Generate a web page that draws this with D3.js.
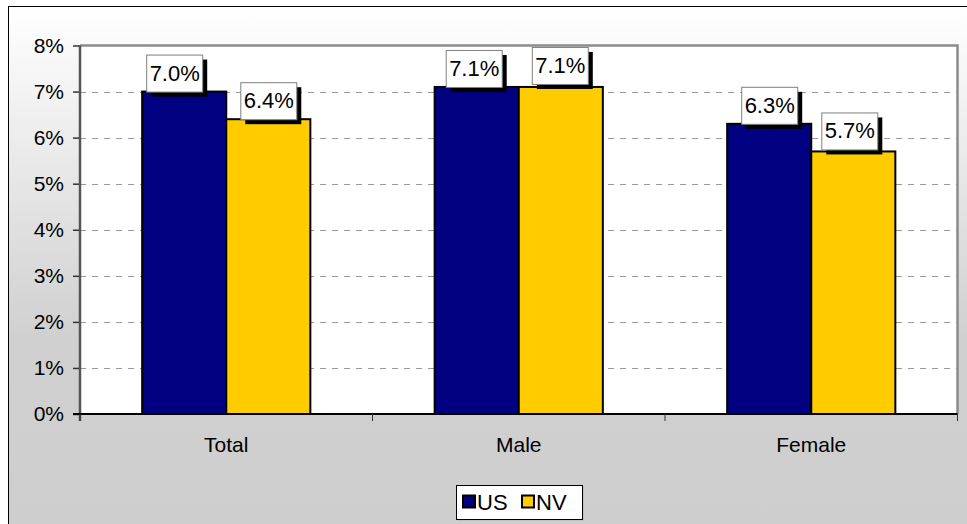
<!DOCTYPE html>
<html>
<head>
<meta charset="utf-8">
<script src="https://cdn.jsdelivr.net/npm/d3@7"></script>
<style>
  html, body { margin: 0; padding: 0; background: #ffffff; }
  svg { display: block; font-family: Arial, "Liberation Sans", sans-serif; }
</style>
</head>
<body>
<svg id="chart" width="967" height="524"></svg>
<script>
// ---- data ----
const categories = ["Total", "Male", "Female"];
const seriesNames = ["US", "NV"];
const usValues = [0.070, 0.071, 0.063];
const nvValues = [0.064, 0.071, 0.057];
const yTickValues = [0, 0.01, 0.02, 0.03, 0.04, 0.05, 0.06, 0.07, 0.08];

// ---- style / layout ----
const colors = { US: "#000080", NV: "#FFCC00" };
const labelNudge = { US: [[-10, 0], [-3, 0], [0, 0]], NV: [[0, 0], [-1, -3], [-4, -2]] };
const W = 967, H = 524;
const plot = { left: 80, right: 957.5, top: 45.5, bottom: 414 };
const fontSize = 21;

const svg = d3.select("#chart");
const defs = svg.append("defs");
const grad = defs.append("linearGradient").attr("id", "bg").attr("x1", 0).attr("y1", 0).attr("x2", 0).attr("y2", 1);
grad.append("stop").attr("offset", "0%").attr("stop-color", "#ffffff");
grad.append("stop").attr("offset", "62%").attr("stop-color", "#d0d0d0");
grad.append("stop").attr("offset", "100%").attr("stop-color", "#cecece");

// chart area background
svg.append("rect").attr("x", 8.5).attr("y", 6.5).attr("width", W + 10).attr("height", H + 10)
  .attr("fill", "url(#bg)").attr("stroke", "#000").attr("stroke-width", 1);

// scales
const x0 = d3.scaleBand().domain(categories).range([plot.left, plot.right]).padding(0);
const groupW = x0.bandwidth() * 0.575;
const x1 = d3.scaleBand().domain(seriesNames)
  .range([(x0.bandwidth() - groupW) / 2, (x0.bandwidth() + groupW) / 2]).padding(0);
const y = d3.scaleLinear().domain([0, 0.08]).range([plot.bottom, plot.top]);

// plot area
svg.append("rect").attr("x", plot.left).attr("y", plot.top)
  .attr("width", plot.right - plot.left).attr("height", plot.bottom - plot.top)
  .attr("fill", "#ffffff");

// gridlines
svg.append("g").selectAll("line").data(yTickValues.filter(v => v > 0 && v < 0.08)).join("line")
  .attr("x1", plot.left).attr("x2", plot.right)
  .attr("y1", d => Math.round(y(d)) + 0.5).attr("y2", d => Math.round(y(d)) + 0.5)
  .attr("stroke", "#9a9a9a").attr("stroke-width", 1).attr("stroke-dasharray", "6,6");

// plot border (top & right gray)
svg.append("path")
  .attr("d", `M${plot.left},${plot.top} H${plot.right} V${plot.bottom}`)
  .attr("fill", "none").attr("stroke", "#8c8c8c").attr("stroke-width", 2.5);

// bars
const rows = categories.map((c, i) => ({ cat: c, i, vals: [
  { s: "US", v: usValues[i] }, { s: "NV", v: nvValues[i] }] }));
const groups = svg.append("g").selectAll("g").data(rows).join("g")
  .attr("transform", d => `translate(${x0(d.cat)},0)`);
groups.selectAll("rect").data(d => d.vals).join("rect")
  .attr("x", d => x1(d.s)).attr("width", x1.bandwidth())
  .attr("y", d => y(d.v)).attr("height", d => y(0) - y(d.v))
  .attr("fill", d => colors[d.s]).attr("stroke", "#000").attr("stroke-width", 2);

// y axis
const yAxis = d3.axisLeft(y).tickValues(yTickValues).tickFormat(d3.format(".0%")).tickSize(7).tickPadding(9);
const yg = svg.append("g").attr("transform", `translate(${plot.left},0)`).call(yAxis);
yg.select(".domain").remove();
yg.selectAll(".tick line").attr("stroke", "#333").attr("stroke-width", 1.5);
yg.selectAll(".tick text").attr("font-size", fontSize).attr("fill", "#000")
  .attr("font-family", "Arial, 'Liberation Sans', sans-serif");
svg.append("line").attr("x1", plot.left).attr("x2", plot.left).attr("y1", plot.top).attr("y2", plot.bottom + 7)
  .attr("stroke", "#555").attr("stroke-width", 2.5);

// x axis
const xAxis = d3.axisBottom(x0).tickSize(0).tickPadding(0);
const xg = svg.append("g").attr("transform", `translate(0,${plot.bottom})`).call(xAxis);
xg.select(".domain").remove();
xg.selectAll(".tick text").attr("font-size", fontSize).attr("fill", "#000")
  .attr("font-family", "Arial, 'Liberation Sans', sans-serif")
  .attr("dy", null).attr("y", 38);
svg.append("line").attr("x1", plot.left - 7).attr("x2", plot.right).attr("y1", plot.bottom).attr("y2", plot.bottom)
  .attr("stroke", "#000").attr("stroke-width", 2);
// category separator ticks
svg.append("g").selectAll("line").data(categories.concat(["__end"])).join("line")
  .attr("x1", (d, i) => i < categories.length ? x0(d) : plot.right)
  .attr("x2", (d, i) => i < categories.length ? x0(d) : plot.right)
  .attr("y1", plot.bottom).attr("y2", plot.bottom + 7)
  .attr("stroke", "#333").attr("stroke-width", 1);

// data labels
const boxW = 56, boxH = 37, sh = 5;
const fmt = d3.format(".1%");
const lab = groups.selectAll("g.lab").data(d => d.vals.map(v => ({ ...v, i: d.i }))).join("g")
  .attr("class", "lab")
  .attr("transform", d => {
    const n = labelNudge[d.s][d.i];
    const cx = x1(d.s) + x1.bandwidth() / 2 + n[0];
    const by = y(d.v) + n[1];
    return `translate(${cx - boxW / 2},${by - boxH})`;
  });
lab.append("rect").attr("x", sh).attr("y", sh).attr("width", boxW).attr("height", boxH).attr("fill", "#000");
lab.append("rect").attr("x", 0.5).attr("y", 0.5).attr("width", boxW).attr("height", boxH)
  .attr("fill", "#fff").attr("stroke", "#808080").attr("stroke-width", 1);
lab.append("text").attr("x", boxW / 2 + 0.5).attr("y", 26).attr("text-anchor", "middle")
  .attr("font-size", 22).attr("fill", "#000").text(d => fmt(d.v));

// legend
const leg = svg.append("g").attr("transform", "translate(456,485)");
leg.append("rect").attr("x", 1.5).attr("y", 1.5).attr("width", 126).attr("height", 34).attr("fill", "#b0b0b0");
leg.append("rect").attr("x", 0.5).attr("y", 0.5).attr("width", 126).attr("height", 34)
  .attr("fill", "#fff").attr("stroke", "#000").attr("stroke-width", 1);
const legX = [7, 66];
const li = leg.selectAll("g.li").data(seriesNames).join("g").attr("class", "li")
  .attr("transform", (d, i) => `translate(${legX[i]},0)`);
li.append("rect").attr("x", 0).attr("y", 10.5).attr("width", 12).attr("height", 12)
  .attr("fill", d => colors[d]).attr("stroke", "#000").attr("stroke-width", 2);
li.append("text").attr("x", 14).attr("y", 25).attr("font-size", 22).attr("fill", "#000").text(d => d);
</script>
</body>
</html>
